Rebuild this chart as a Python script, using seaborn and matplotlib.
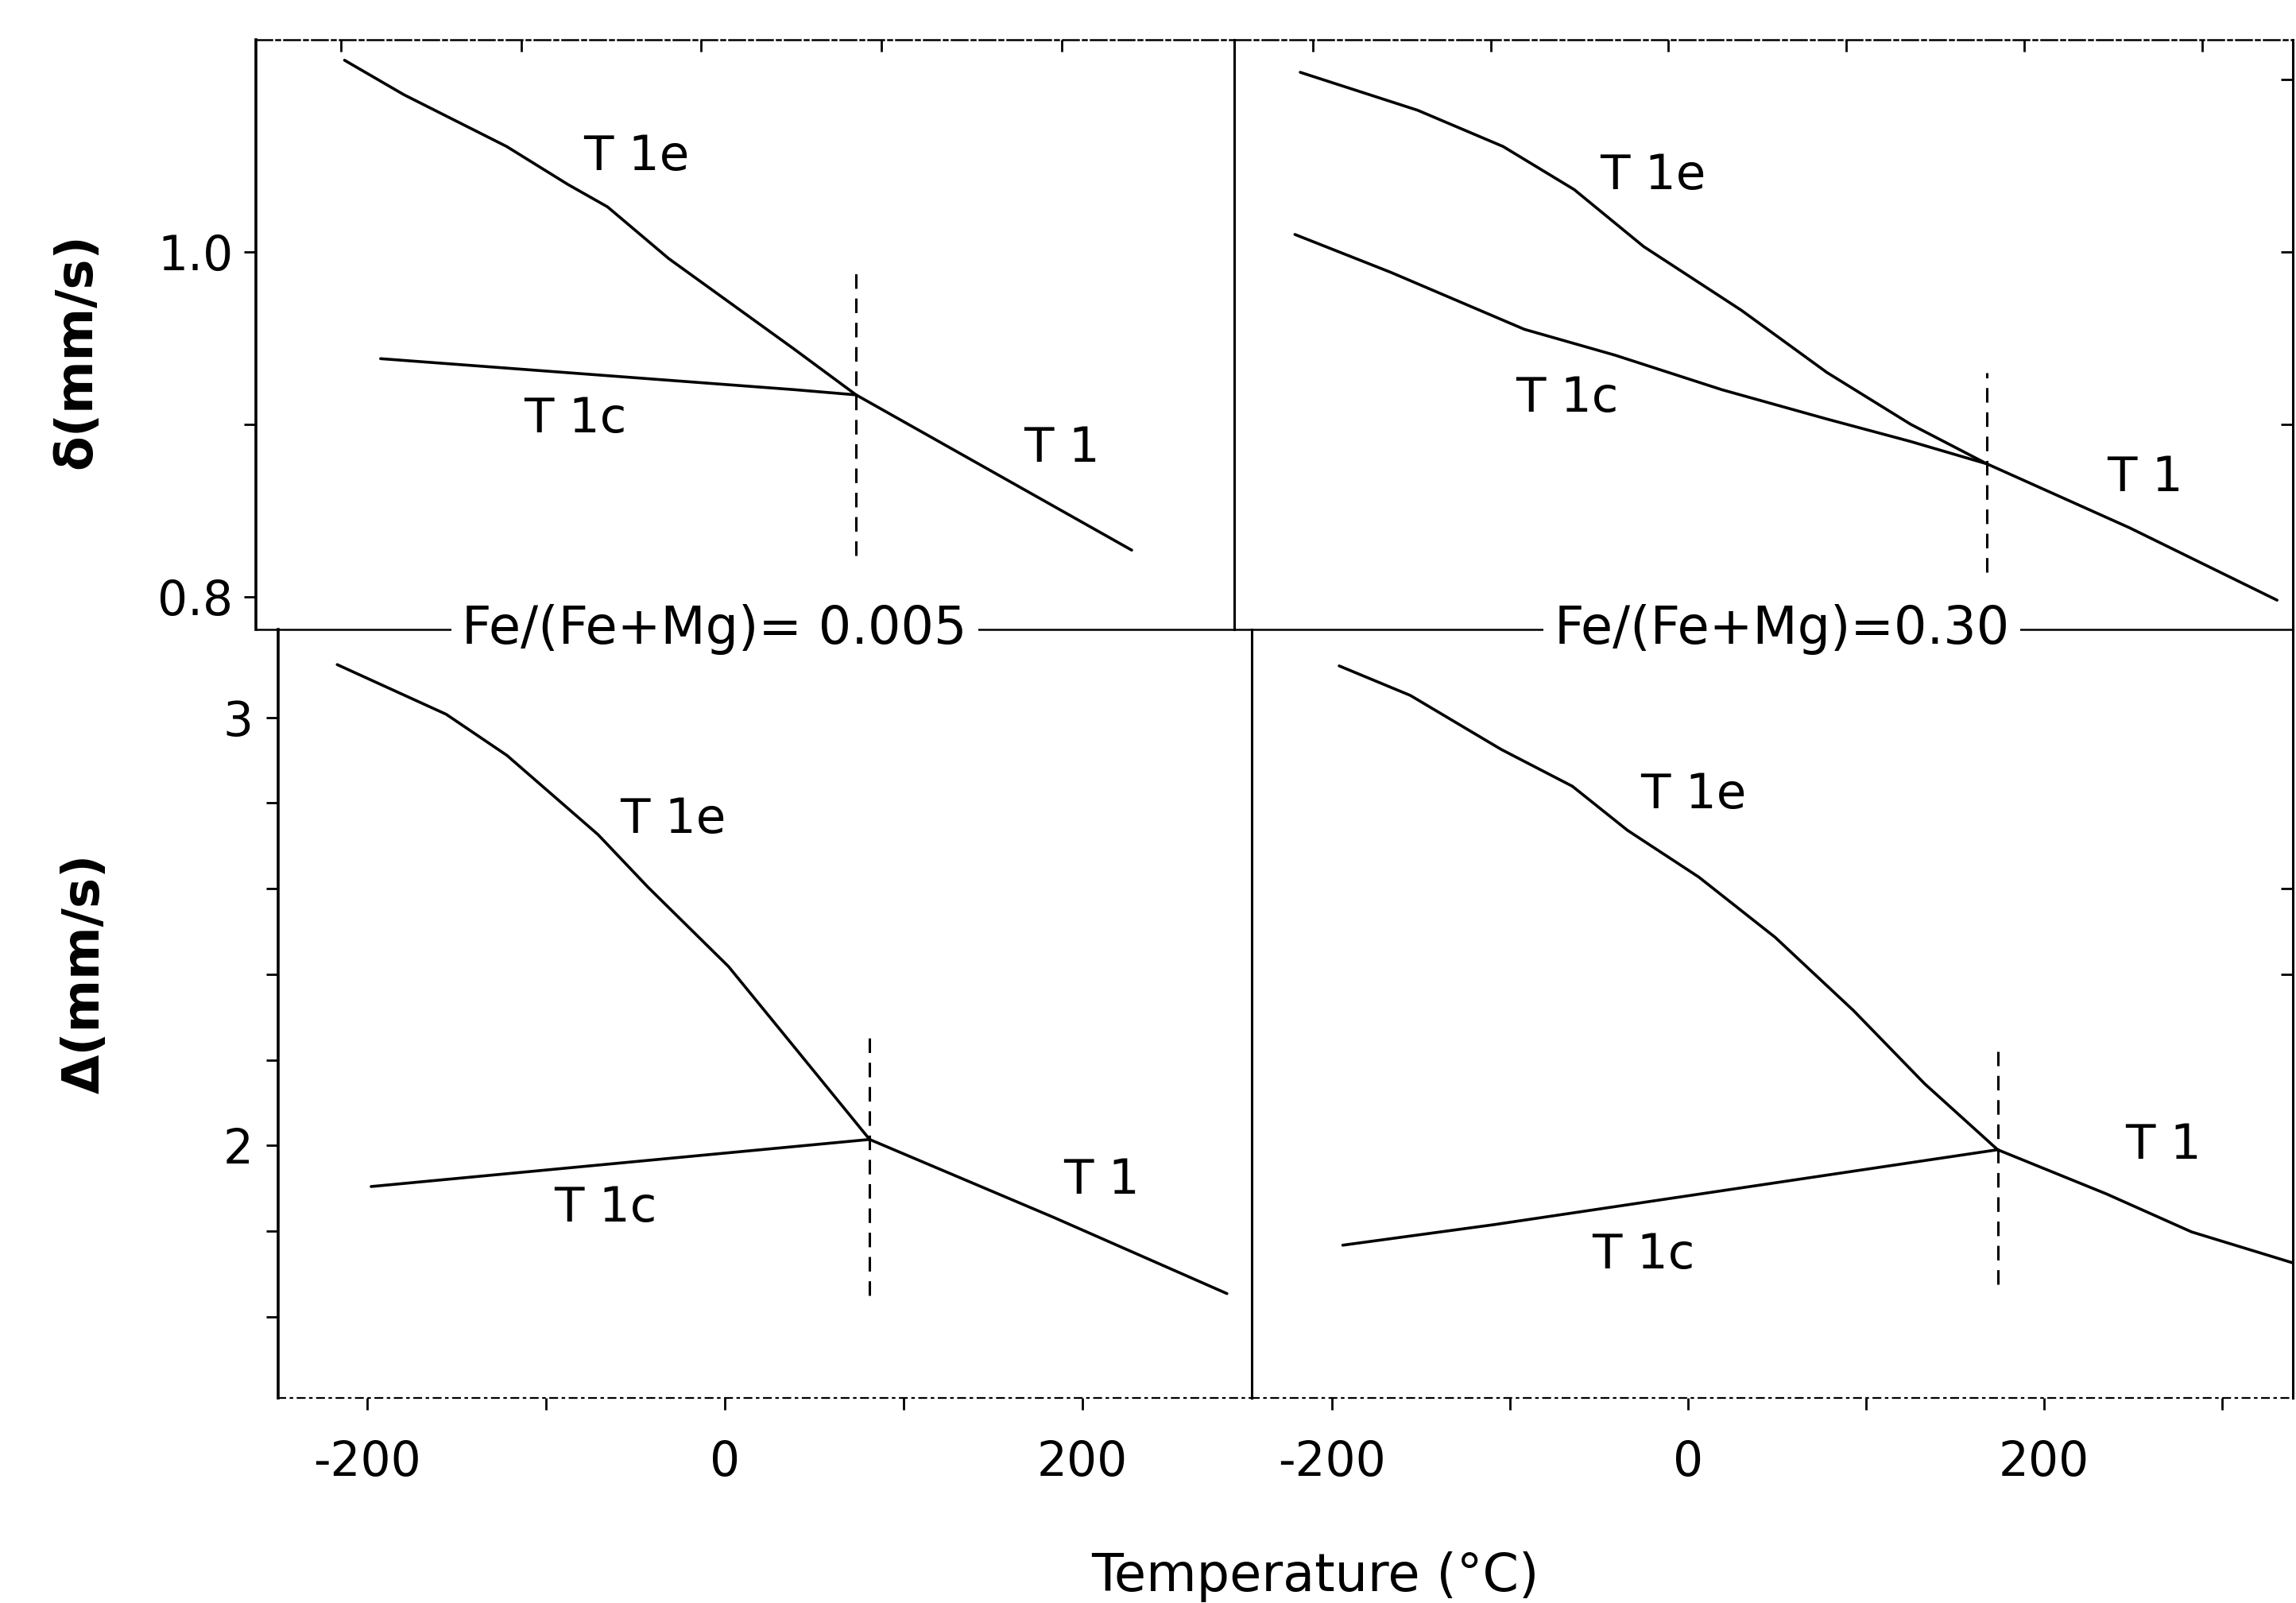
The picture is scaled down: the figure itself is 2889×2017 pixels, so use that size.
import matplotlib
matplotlib.use("Agg")
import matplotlib.pyplot as plt
import seaborn as sns
import numpy as np

# ---------------- data ----------------
# isomer shift delta (mm/s), Fe/(Fe+Mg) = 0.005
d005_t1e_T = [-198, -165, -108, -74, -52, -18, 51, 86]
d005_t1e_v = [1.111, 1.091, 1.061, 1.039, 1.026, 0.996, 0.944, 0.917]
d005_t1c_T = [-178, 52, 86]
d005_t1c_v = [0.938, 0.920, 0.917]
d005_t1_T = [86, 239]
d005_t1_v = [0.917, 0.827]
d005_tc = 86
d005_tc_span = [0.824, 0.989]

# isomer shift delta (mm/s), Fe/(Fe+Mg) = 0.30
d030_t1e_T = [-207, -141, -93, -53, -14, 41, 89, 136, 179]
d030_t1e_v = [1.104, 1.082, 1.061, 1.036, 1.003, 0.966, 0.930, 0.900, 0.877]
d030_t1c_T = [-210, -156, -81, -30, 30, 89, 136, 179]
d030_t1c_v = [1.010, 0.988, 0.955, 0.940, 0.920, 0.903, 0.890, 0.877]
d030_t1_T = [179, 259, 342]
d030_t1_v = [0.877, 0.840, 0.798]
d030_tc = 179
d030_tc_span = [0.814, 0.930]

# quadrupole splitting Delta (mm/s), Fe/(Fe+Mg) = 0.005
q005_t1e_T = [-217, -156, -122, -71, -43, 2, 39, 81]
q005_t1e_v = [3.123, 3.007, 2.911, 2.726, 2.603, 2.418, 2.229, 2.014]
q005_t1c_T = [-198, 81]
q005_t1c_v = [1.904, 2.014]
q005_t1_T = [81, 184, 281]
q005_t1_v = [2.014, 1.832, 1.654]
q005_tc = 81
q005_tc_span = [1.65, 2.26]

# quadrupole splitting Delta (mm/s), Fe/(Fe+Mg) = 0.30
q030_t1e_T = [-196, -156, -105, -65, -34, 6, 49, 93, 133, 174]
q030_t1e_v = [3.120, 3.051, 2.925, 2.839, 2.736, 2.627, 2.486, 2.315, 2.144, 1.990]
q030_t1c_T = [-194, -109, 174]
q030_t1c_v = [1.767, 1.815, 1.990]
q030_t1_T = [174, 235, 283, 342]
q030_t1_v = [1.990, 1.887, 1.798, 1.723]
q030_tc = 174
q030_tc_span = [1.675, 2.22]

comp_labels = ["Fe/(Fe+Mg)= 0.005", "Fe/(Fe+Mg)=0.30"]
y_top_label = "δ(mm/s)"
y_bot_label = "Δ(mm/s)"
x_label = "Temperature (°C)"

# ---------------- style ----------------
sns.set_style("ticks")
plt.rcParams['font.family'] = ['DejaVu Sans']
plt.rcParams['axes.linewidth'] = 2.2
for k in ("text.color", "axes.labelcolor", "xtick.color", "ytick.color",
          "axes.edgecolor"):
    plt.rcParams[k] = "black"

W, H = 1568.0, 1095.0
fig = plt.figure(figsize=(28.89, 20.17), dpi=100)
fig.patch.set_facecolor("white")


def box(x0, x1, y0, y1):
    return [x0 / W, 1 - y1 / H, (x1 - x0) / W, (y1 - y0) / H]


ax_tl = fig.add_axes(box(175, 843, 27, 430))
ax_tr = fig.add_axes(box(843, 1566, 27, 430))
ax_bl = fig.add_axes(box(190, 855, 430, 955))
ax_br = fig.add_axes(box(855, 1566, 430, 955))

LW = 2.6
TXT = 43


def draw(ax, e_T, e_v, c_T, c_v, t_T, t_v, tc, span):
    for xs, ys in ((e_T, e_v), (c_T, c_v), (t_T, t_v)):
        sns.lineplot(x=xs, y=ys, ax=ax, color="black", lw=LW, sort=False,
                     estimator=None)
    ax.plot([tc, tc], span, color="black", lw=2.2, linestyle=(0, (6, 4)))


draw(ax_tl, d005_t1e_T, d005_t1e_v, d005_t1c_T, d005_t1c_v, d005_t1_T, d005_t1_v,
     d005_tc, d005_tc_span)
draw(ax_tr, d030_t1e_T, d030_t1e_v, d030_t1c_T, d030_t1c_v, d030_t1_T, d030_t1_v,
     d030_tc, d030_tc_span)
draw(ax_bl, q005_t1e_T, q005_t1e_v, q005_t1c_T, q005_t1c_v, q005_t1_T, q005_t1_v,
     q005_tc, q005_tc_span)
draw(ax_br, q030_t1e_T, q030_t1e_v, q030_t1c_T, q030_t1c_v, q030_t1_T, q030_t1_v,
     q030_tc, q030_tc_span)

ax_tl.set_xlim(-247, 296)
ax_tr.set_xlim(-244, 351)
ax_bl.set_xlim(-250, 295)
ax_br.set_xlim(-245, 340)
for a in (ax_tl, ax_tr):
    a.set_ylim(0.781, 1.123)
for a in (ax_bl, ax_br):
    a.set_ylim(1.41, 3.205)

# curve labels
lbl = dict(fontsize=44, ha="center", va="center", color="black")
ax_tl.text(-36, 1.055, "T 1e", **lbl)
ax_tl.text(-70, 0.903, "T 1c", **lbl)
ax_tl.text(200, 0.886, "T 1", **lbl)
ax_tr.text(-9, 1.044, "T 1e", **lbl)
ax_tr.text(-57, 0.915, "T 1c", **lbl)
ax_tr.text(268, 0.869, "T 1", **lbl)
ax_bl.text(-29, 2.760, "T 1e", **lbl)
ax_bl.text(-67, 1.853, "T 1c", **lbl)
ax_bl.text(211, 1.918, "T 1", **lbl)
ax_br.text(3, 2.818, "T 1e", **lbl)
ax_br.text(-25, 1.743, "T 1c", **lbl)
ax_br.text(267, 2.000, "T 1", **lbl)

# spines
for a in (ax_tl, ax_tr, ax_bl, ax_br):
    for s in a.spines.values():
        s.set_visible(True)
        s.set_color("black")
for a in (ax_tl, ax_tr):
    a.spines["top"].set_linestyle((0, (8, 2, 2, 2)))
    a.spines["top"].set_linewidth(1.8)
    a.spines["bottom"].set_linewidth(1.8)
for a in (ax_bl, ax_br):
    a.spines["top"].set_visible(False)
    a.spines["bottom"].set_linestyle((0, (4, 3, 1, 3)))
    a.spines["bottom"].set_linewidth(1.6)
ax_tr.spines["left"].set_visible(False)
ax_br.spines["left"].set_visible(False)
ax_tl.spines["left"].set_linewidth(2.6)
ax_bl.spines["left"].set_linewidth(2.6)

# ticks
tick_kw = dict(length=11, width=2.0, labelsize=TXT, color="black",
               labelcolor="black")
# top-left
ax_tl.set_yticks([0.8, 0.9, 1.0])
ax_tl.set_yticklabels(["0.8", "", "1.0"])
ax_tl.tick_params(axis="y", left=True, right=False, direction="out", pad=10, **tick_kw)
ax_tl.set_xticks([-200, -100, 0, 100, 200])
ax_tl.tick_params(axis="x", top=True, bottom=False, labeltop=False, labelbottom=False,
                  direction="in", **tick_kw)
# top-right
ax_tr.set_yticks([0.9, 1.0, 1.1])
ax_tr.tick_params(axis="y", left=False, right=True, labelleft=False, labelright=False,
                  direction="in", **tick_kw)
ax_tr.set_xticks([-200, -100, 0, 100, 200, 300])
ax_tr.tick_params(axis="x", top=True, bottom=False, labeltop=False, labelbottom=False,
                  direction="in", **tick_kw)
# bottom-left
yt = [1.6, 1.8, 2.0, 2.2, 2.4, 2.6, 2.8, 3.0]
ax_bl.set_yticks(yt)
ax_bl.set_yticklabels(["", "", "2", "", "", "", "", "3"])
ax_bl.tick_params(axis="y", left=True, right=False, direction="out", pad=12, **tick_kw)
ax_bl.set_xticks([-200, -100, 0, 100, 200])
ax_bl.set_xticklabels(["-200", "", "0", "", "200"])
ax_bl.tick_params(axis="x", bottom=True, top=False, direction="out", pad=26, **tick_kw)
# bottom-right
ax_br.set_yticks([2.4, 2.6])
ax_br.tick_params(axis="y", left=False, right=True, labelleft=False, labelright=False,
                  direction="in", **tick_kw)
ax_br.set_xticks([-200, -100, 0, 100, 200, 300])
ax_br.set_xticklabels(["-200", "", "0", "", "200", ""])
ax_br.tick_params(axis="x", bottom=True, top=False, direction="out", pad=26, **tick_kw)

for a in (ax_tl, ax_tr, ax_bl, ax_br):
    a.set_xlabel("")
    a.set_ylabel("")
    a.set_facecolor("none")

# composition labels on the separator line
bb = dict(facecolor="white", edgecolor="none", pad=10)
ax_tl.text(0.4686, 0.0, comp_labels[0], transform=ax_tl.transAxes, ha="center",
           va="center", fontsize=47, bbox=bb, zorder=5, clip_on=False)
ax_tr.text(0.517, 0.0, comp_labels[1], transform=ax_tr.transAxes, ha="center",
           va="center", fontsize=47, bbox=bb, zorder=5, clip_on=False)

# axis titles
fig.text(52 / W, 1 - 240 / H, y_top_label, rotation=90, ha="center", va="center",
         fontsize=46, fontweight="bold")
fig.text(58 / W, 1 - 665 / H, y_bot_label, rotation=90, ha="center", va="center",
         fontsize=46, fontweight="bold")
fig.text(898 / W, 1 - 1077 / H, x_label, ha="center", va="center", fontsize=47)

fig.savefig("out.png", dpi=100, facecolor="white")
